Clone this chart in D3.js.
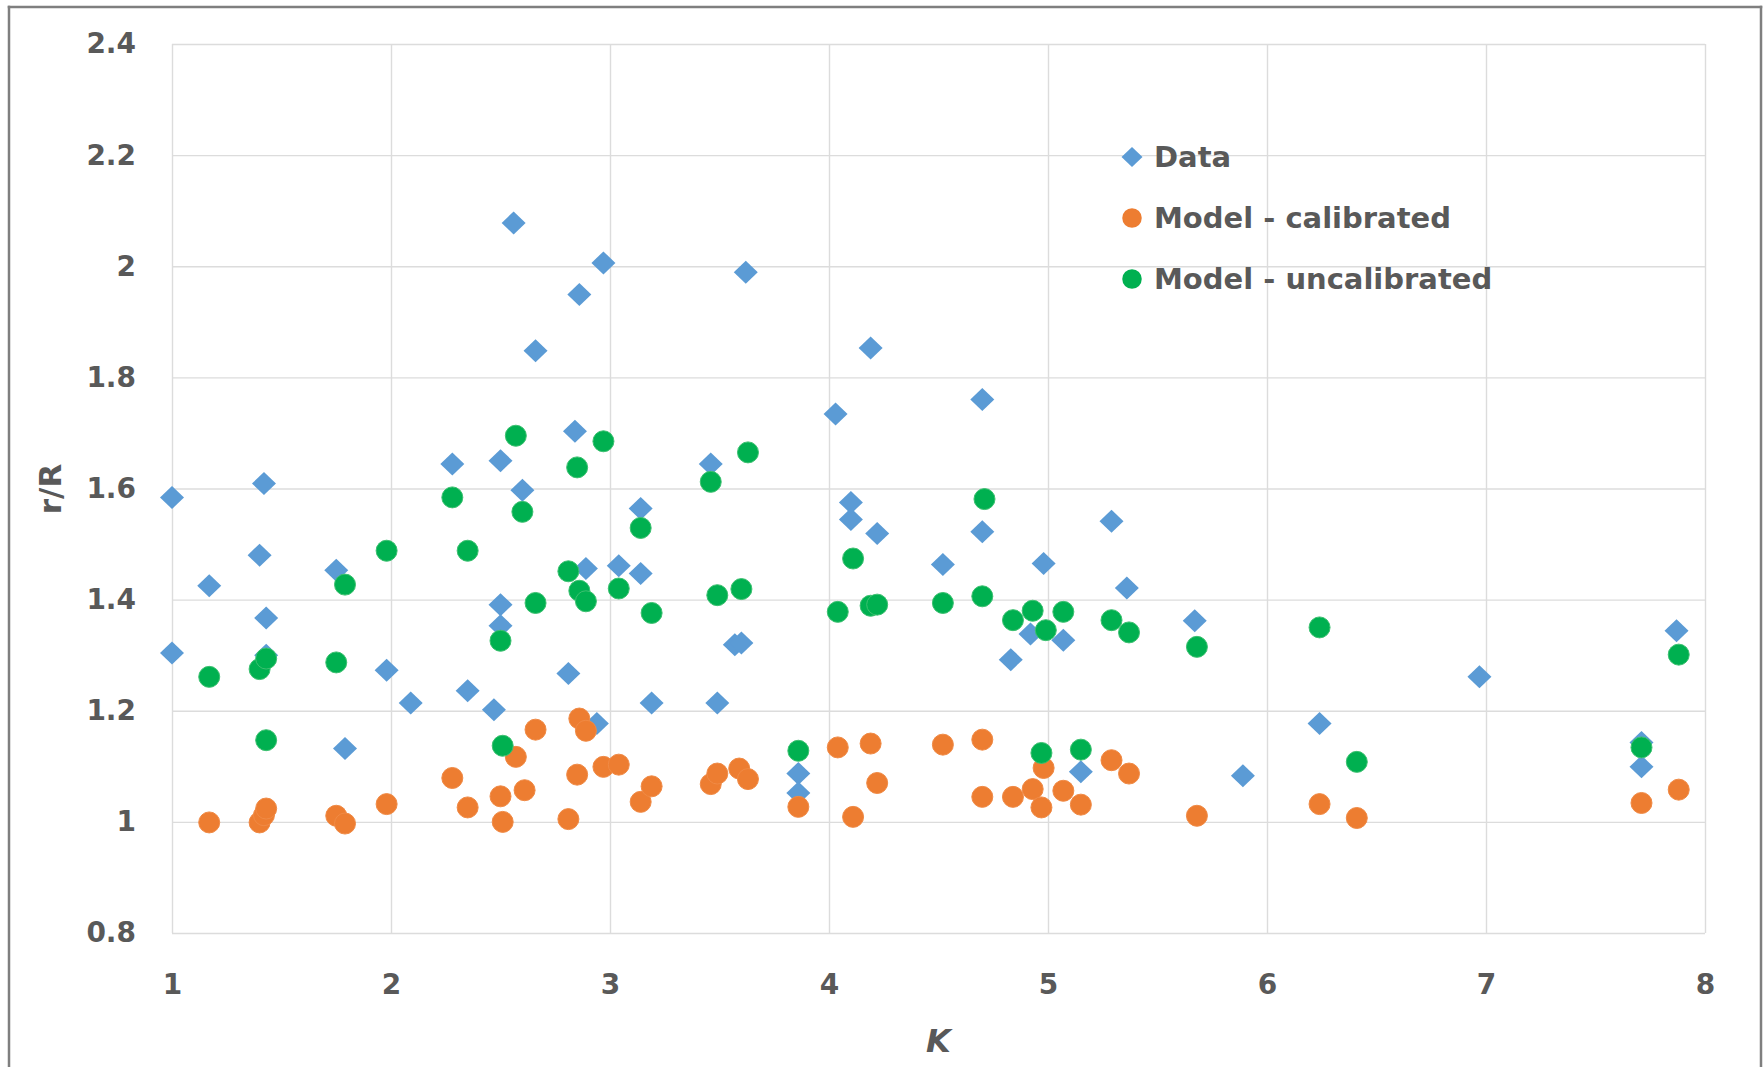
<!DOCTYPE html>
<html>
<head>
<meta charset="utf-8">
<script src="https://cdn.jsdelivr.net/npm/d3@7"></script>
<style>
  html, body { margin: 0; padding: 0; background: #fff; overflow: hidden; }
  svg { display: block; }
  text { font-family: "DejaVu Sans", sans-serif; font-weight: bold; fill: #595959; }
</style>
</head>
<body>
<div id="graph"></div>
<script>
// measured points (blue diamonds)
const dataK = [1.0, 1.0, 1.17, 1.40, 1.42, 1.43, 1.43, 1.75, 1.79, 1.98, 2.09, 2.28, 2.35, 2.47, 2.50, 2.50, 2.50, 2.56, 2.60, 2.66, 2.81, 2.84, 2.86, 2.89, 2.94, 2.97, 3.04, 3.14, 3.14, 3.19, 3.46, 3.49, 3.57, 3.60, 3.62, 3.86, 3.86, 4.03, 4.10, 4.10, 4.19, 4.22, 4.52, 4.70, 4.70, 4.83, 4.92, 4.98, 5.07, 5.15, 5.29, 5.36, 5.67, 5.89, 6.24, 6.97, 7.71, 7.71, 7.87];
const dataR = [1.584, 1.304, 1.425, 1.480, 1.609, 1.367, 1.30, 1.453, 1.132, 1.273, 1.214, 1.644, 1.236, 1.202, 1.650, 1.391, 1.353, 2.078, 1.597, 1.848, 1.267, 1.703, 1.949, 1.456, 1.177, 2.006, 1.461, 1.447, 1.564, 1.214, 1.644, 1.214, 1.319, 1.322, 1.989, 1.087, 1.052, 1.734, 1.575, 1.544, 1.853, 1.519, 1.463, 1.760, 1.522, 1.292, 1.338, 1.465, 1.327, 1.090, 1.541, 1.421, 1.362, 1.083, 1.177, 1.261, 1.143, 1.099, 1.344];

// model - calibrated (orange)
const calK = [1.17, 1.40, 1.42, 1.43, 1.75, 1.79, 1.98, 2.28, 2.35, 2.50, 2.51, 2.57, 2.61, 2.66, 2.81, 2.85, 2.86, 2.89, 2.97, 3.04, 3.14, 3.19, 3.46, 3.49, 3.59, 3.63, 3.86, 4.04, 4.11, 4.19, 4.22, 4.52, 4.70, 4.70, 4.84, 4.93, 4.97, 4.98, 5.07, 5.15, 5.29, 5.37, 5.68, 6.24, 6.41, 7.71, 7.88];
const calR = [0.999, 0.999, 1.012, 1.024, 1.011, 0.997, 1.032, 1.079, 1.026, 1.046, 1.000, 1.117, 1.057, 1.166, 1.005, 1.085, 1.186, 1.164, 1.099, 1.103, 1.036, 1.064, 1.068, 1.087, 1.096, 1.077, 1.027, 1.134, 1.009, 1.141, 1.070, 1.139, 1.148, 1.045, 1.045, 1.059, 1.026, 1.097, 1.056, 1.031, 1.111, 1.087, 1.011, 1.032, 1.007, 1.034, 1.058];

// model - uncalibrated (green)
const uncalK = [1.17, 1.40, 1.43, 1.43, 1.75, 1.79, 1.98, 2.28, 2.35, 2.50, 2.51, 2.57, 2.60, 2.66, 2.81, 2.85, 2.86, 2.89, 2.97, 3.04, 3.14, 3.19, 3.46, 3.49, 3.60, 3.63, 3.86, 4.04, 4.11, 4.19, 4.22, 4.52, 4.70, 4.71, 4.84, 4.93, 4.97, 4.99, 5.07, 5.15, 5.29, 5.37, 5.68, 6.24, 6.41, 7.71, 7.88];
const uncalR = [1.261, 1.275, 1.294, 1.147, 1.287, 1.427, 1.488, 1.584, 1.488, 1.326, 1.137, 1.695, 1.558, 1.394, 1.451, 1.638, 1.416, 1.397, 1.685, 1.420, 1.529, 1.376, 1.612, 1.408, 1.419, 1.665, 1.128, 1.378, 1.474, 1.389, 1.391, 1.394, 1.406, 1.581, 1.363, 1.380, 1.124, 1.345, 1.378, 1.130, 1.363, 1.341, 1.315, 1.350, 1.108, 1.134, 1.301];

const xTicks = [1, 2, 3, 4, 5, 6, 7, 8];
const yTicks = [0.8, 1, 1.2, 1.4, 1.6, 1.8, 2, 2.2, 2.4];
const seriesNames = ["Data", "Model - calibrated", "Model - uncalibrated"];
const seriesColors = ["#5b9bd5", "#ed7d31", "#00b050"];

const w = 1763;
const h = 1067;
const margin = {top: 44, right: 58, bottom: 134, left: 172};
const innerWidth = w - margin.left - margin.right;
const innerHeight = h - margin.top - margin.bottom;

const svg = d3.select("#graph")
    .append("svg")
    .attr("width", w)
    .attr("height", h);

// outer frame: left, top and right edges (bottom is outside the picture)
const frame = [[9, 7, 9, h], [9, 7, 1761, 7], [1761, 7, 1761, h]];
svg.selectAll(".frame")
    .data(frame)
    .enter()
    .append("line")
    .attr("class", "frame")
    .attr("x1", d => d[0]).attr("y1", d => d[1])
    .attr("x2", d => d[2]).attr("y2", d => d[3])
    .attr("stroke", "#7f7f7f")
    .attr("stroke-width", 2.5)
    .attr("stroke-linecap", "square");

const xScale = d3.scaleLinear().domain([1, 8]).range([0, innerWidth]);
const yScale = d3.scaleLinear().domain([0.8, 2.4]).range([innerHeight, 0]);

const g = svg.append("g")
    .attr("transform", `translate(${margin.left},${margin.top})`);

// y axis + horizontal grid
const yAxisG = g.append("g")
    .call(d3.axisLeft(yScale)
        .tickValues(yTicks)
        .tickSize(-innerWidth)
        .tickPadding(36)
        .tickFormat(d => String(+d.toFixed(1))));

// x axis + vertical grid
const xAxisG = g.append("g")
    .attr("transform", `translate(0,${innerHeight})`)
    .call(d3.axisBottom(xScale)
        .tickValues(xTicks)
        .tickSize(-innerHeight)
        .tickPadding(41)
        .tickFormat(d3.format("d")));

[xAxisG, yAxisG].forEach(a => {
    a.select(".domain").remove();
    a.selectAll(".tick line").attr("stroke", "#dcdcdc").attr("stroke-width", 1.4);
    a.selectAll(".tick text").style("font-size", "28px").attr("fill", "#595959");
});

// axis titles
svg.append("text")
    .attr("transform", "translate(50,489) rotate(-90)")
    .attr("text-anchor", "middle")
    .attr("dy", "0.35em")
    .style("font-size", "31px")
    .text("r/R");

svg.append("text")
    .attr("x", margin.left + innerWidth / 2)
    .attr("y", 1052)
    .attr("text-anchor", "middle")
    .style("font-size", "32px")
    .style("font-style", "italic")
    .text("K");

const diamond = "M0,-11.5L12,0L0,11.5L-12,0Z";

// Data diamonds
g.selectAll(".dataPt")
    .data(d3.zip(dataK, dataR))
    .enter()
    .append("path")
    .attr("class", "dataPt")
    .attr("d", diamond)
    .attr("transform", d => `translate(${xScale(d[0])},${yScale(d[1])})`)
    .attr("fill", seriesColors[0]);

// calibrated model
g.selectAll(".calPt")
    .data(d3.zip(calK, calR))
    .enter()
    .append("circle")
    .attr("class", "calPt")
    .attr("cx", d => xScale(d[0]))
    .attr("cy", d => yScale(d[1]))
    .attr("r", 10.5)
    .attr("fill", seriesColors[1])
    .attr("stroke", "#f08a45")
    .attr("stroke-width", 1);

// uncalibrated model
g.selectAll(".uncalPt")
    .data(d3.zip(uncalK, uncalR))
    .enter()
    .append("circle")
    .attr("class", "uncalPt")
    .attr("cx", d => xScale(d[0]))
    .attr("cy", d => yScale(d[1]))
    .attr("r", 10.5)
    .attr("fill", seriesColors[2])
    .attr("stroke", "#3cc070")
    .attr("stroke-width", 1);

// legend
const legend = svg.append("g").attr("transform", "translate(1132,157)");
const items = legend.selectAll("g")
    .data(seriesNames)
    .enter()
    .append("g")
    .attr("transform", (d, i) => `translate(0,${i * 61})`);

items.append("path")
    .attr("d", (d, i) => i === 0 ? "M0,-10L10.5,0L0,10L-10.5,0Z" : d3.symbol(d3.symbolCircle, 300)())
    .attr("fill", (d, i) => seriesColors[i]);

items.append("text")
    .attr("x", 22)
    .attr("dy", "0.36em")
    .style("font-size", "29px")
    .text(d => d);
</script>
</body>
</html>
